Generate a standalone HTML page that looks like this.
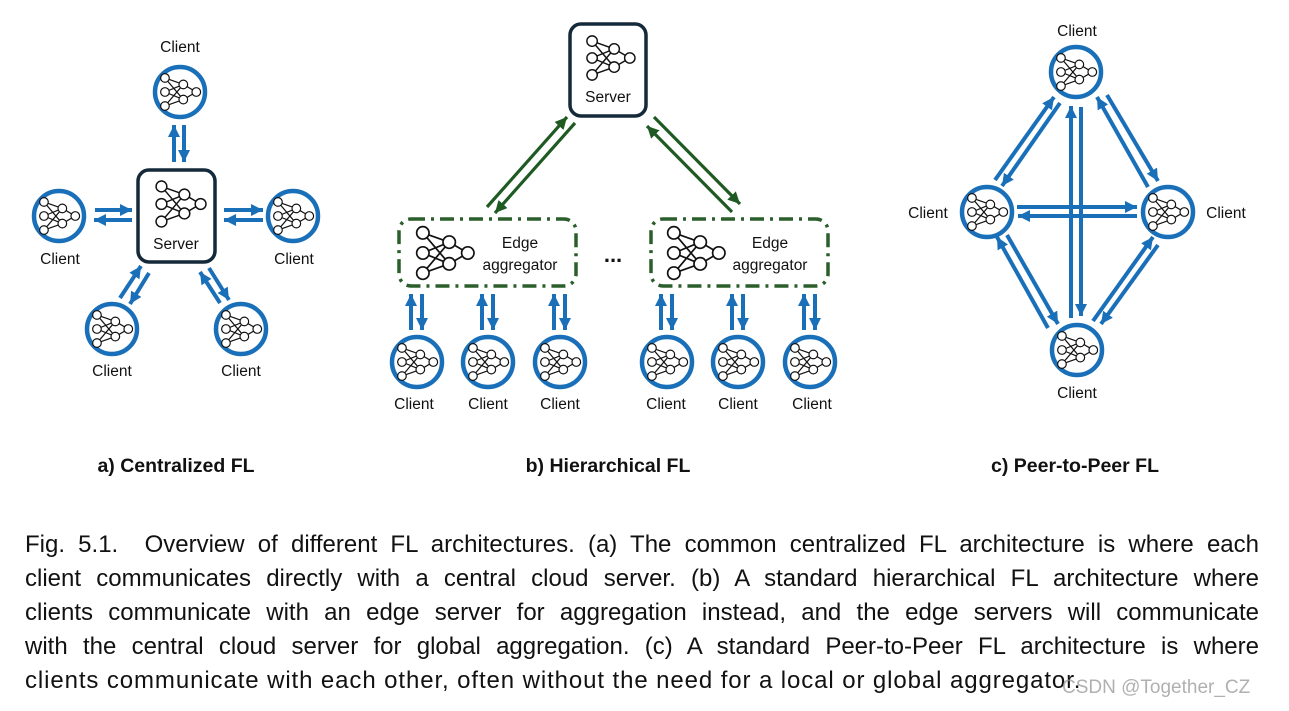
<!DOCTYPE html>
<html><head><meta charset="utf-8"><style>
html,body{margin:0;padding:0;background:#fff;}
body{width:1289px;height:711px;position:relative;overflow:hidden;font-family:"Liberation Sans",sans-serif;}
svg{position:absolute;left:0;top:0;}
.cap{position:absolute;left:25px;width:1234px;font-size:24px;color:#111;white-space:nowrap;text-align:justify;text-align-last:justify;line-height:34px;}
.wm{position:absolute;left:1062px;top:677px;font-size:19px;color:rgba(150,150,150,0.75);}
</style></head><body>
<svg width="1289" height="711" viewBox="0 0 1289 711">
<defs>
<marker id="ab" markerUnits="userSpaceOnUse" markerWidth="14" markerHeight="14" refX="12" refY="6" orient="auto"><path d="M0,0 L12,6 L0,12 z" fill="#1a6fb9"/></marker>
<marker id="ag" markerUnits="userSpaceOnUse" markerWidth="14" markerHeight="14" refX="12" refY="6" orient="auto"><path d="M0,0 L12,6 L0,12 z" fill="#1f5a22"/></marker>
<g id="nn" stroke="#111" stroke-width="1.1" fill="#fff">
<path d="M-13,-13L4,-7M-13,-13L4,7M-13,0L4,-7M-13,0L4,7M-13,13L4,-7M-13,13L4,7M4,-7L16,0M4,7L16,0" fill="none"/>
<circle cx="-13" cy="-13" r="4"/><circle cx="-13" cy="0" r="4"/><circle cx="-13" cy="13" r="4"/>
<circle cx="4" cy="-7" r="4"/><circle cx="4" cy="7" r="4"/><circle cx="16" cy="0" r="4"/>
</g>
<g id="cl"><circle r="25" fill="#fff" stroke="#1a6fb9" stroke-width="4.5"/><use href="#nn" transform="translate(-1,0) scale(1.08)"/></g>
</defs>

<g font-size="15.5" fill="#111" text-anchor="middle">
<g stroke="#1a6fb9" stroke-width="4" marker-end="url(#ab)">
<line x1="174" y1="162" x2="174" y2="125"/><line x1="184" y1="125" x2="184" y2="162"/>
<line x1="95" y1="210" x2="132" y2="210"/><line x1="132" y1="220" x2="94" y2="220"/>
<line x1="224" y1="210" x2="263" y2="210"/><line x1="263" y1="220" x2="224" y2="220"/>
<line x1="120" y1="298" x2="141" y2="266"/><line x1="149" y1="273" x2="130" y2="304"/>
<line x1="220" y1="303" x2="200" y2="272"/><line x1="209" y1="268" x2="229" y2="300"/>
</g>
<rect x="138" y="170" width="77" height="92" rx="11" fill="#fff" stroke="#14293a" stroke-width="3.5"/>
<use href="#nn" transform="translate(179,204) scale(1.35)"/>
<text x="176" y="249">Server</text>
<use href="#cl" x="180" y="92"/><use href="#cl" x="59" y="216"/><use href="#cl" x="293" y="216"/>
<use href="#cl" x="112" y="329"/><use href="#cl" x="241" y="329"/>
<text x="180" y="52">Client</text><text x="60" y="264">Client</text><text x="294" y="264">Client</text>
<text x="112" y="376">Client</text><text x="241" y="376">Client</text>

<g stroke="#1f5a22" stroke-width="3.2" marker-end="url(#ag)">
<line x1="487" y1="207" x2="567" y2="117"/><line x1="575" y1="123" x2="495" y2="213"/>
<line x1="732" y1="212" x2="647" y2="126"/><line x1="654" y1="117" x2="740" y2="204"/>
</g>
<rect x="570" y="24" width="76" height="92" rx="11" fill="#fff" stroke="#14293a" stroke-width="3.5"/>
<use href="#nn" transform="translate(609,58) scale(1.3)"/>
<text x="608" y="102">Server</text>
<g fill="none" stroke="#2a5e2a" stroke-width="3.5" stroke-dasharray="14,6,3,6">
<rect x="399" y="219" width="177" height="67" rx="12"/>
<rect x="651" y="219" width="177" height="67" rx="12"/>
</g>
<use href="#nn" transform="translate(443,253) scale(1.55)"/>
<use href="#nn" transform="translate(694,253) scale(1.55)"/>
<text x="520" y="248">Edge</text><text x="520" y="270">aggregator</text>
<text x="770" y="248">Edge</text><text x="770" y="270">aggregator</text>
<text x="613" y="262" font-size="22" font-weight="bold">...</text>
<g stroke="#1a6fb9" stroke-width="4" marker-end="url(#ab)">
<line x1="411" y1="330" x2="411" y2="294"/><line x1="422" y1="294" x2="422" y2="330"/>
<line x1="482" y1="330" x2="482" y2="294"/><line x1="493" y1="294" x2="493" y2="330"/>
<line x1="554" y1="330" x2="554" y2="294"/><line x1="565" y1="294" x2="565" y2="330"/>
<line x1="661" y1="330" x2="661" y2="294"/><line x1="672" y1="294" x2="672" y2="330"/>
<line x1="732" y1="330" x2="732" y2="294"/><line x1="743" y1="294" x2="743" y2="330"/>
<line x1="804" y1="330" x2="804" y2="294"/><line x1="815" y1="294" x2="815" y2="330"/>
</g>
<use href="#cl" x="417" y="362"/><use href="#cl" x="488" y="362"/><use href="#cl" x="560" y="362"/>
<use href="#cl" x="667" y="362"/><use href="#cl" x="738" y="362"/><use href="#cl" x="810" y="362"/>
<text x="414" y="409">Client</text><text x="488" y="409">Client</text><text x="560" y="409">Client</text>
<text x="666" y="409">Client</text><text x="738" y="409">Client</text><text x="812" y="409">Client</text>

<g stroke="#1a6fb9" stroke-width="4" marker-end="url(#ab)">
<line x1="1071" y1="318" x2="1071" y2="106"/><line x1="1081" y1="107" x2="1081" y2="316"/>
<line x1="1017" y1="207" x2="1137" y2="207"/><line x1="1137" y1="216" x2="1018" y2="216"/>
<line x1="995" y1="180" x2="1054" y2="97"/><line x1="1060" y1="103" x2="1002" y2="186"/>
<line x1="1148" y1="187" x2="1097" y2="97"/><line x1="1107" y1="95" x2="1158" y2="181"/>
<line x1="1048" y1="328" x2="997" y2="237"/><line x1="1007" y1="235" x2="1058" y2="324"/>
<line x1="1093" y1="321" x2="1153" y2="237"/><line x1="1158" y1="245" x2="1101" y2="324"/>
</g>
<use href="#cl" x="1076" y="72"/><use href="#cl" x="987" y="212"/><use href="#cl" x="1168" y="212"/><use href="#cl" x="1077" y="350"/>
<text x="1077" y="36">Client</text><text x="928" y="218">Client</text><text x="1226" y="218">Client</text><text x="1077" y="398">Client</text>

<g font-size="19.5" font-weight="bold">
<text x="176" y="472">a) Centralized FL</text>
<text x="608" y="472">b) Hierarchical FL</text>
<text x="1075" y="472">c) Peer-to-Peer FL</text>
</g>
</g>
</svg>
<div class="cap" style="top:528px">Fig. 5.1.&nbsp; Overview of different FL architectures. (a) The common centralized FL architecture is where each</div>
<div class="cap" style="top:562px">client communicates directly with a central cloud server. (b) A standard hierarchical FL architecture where</div>
<div class="cap" style="top:596px">clients communicate with an edge server for aggregation instead, and the edge servers will communicate</div>
<div class="cap" style="top:630px">with the central cloud server for global aggregation. (c) A standard Peer-to-Peer FL architecture is where</div>
<div class="cap" style="top:664px;text-align-last:left;width:auto;letter-spacing:0.9px">clients communicate with each other, often without the need for a local or global aggregator.</div>
<div class="wm">CSDN @Together_CZ</div>
</body></html>
